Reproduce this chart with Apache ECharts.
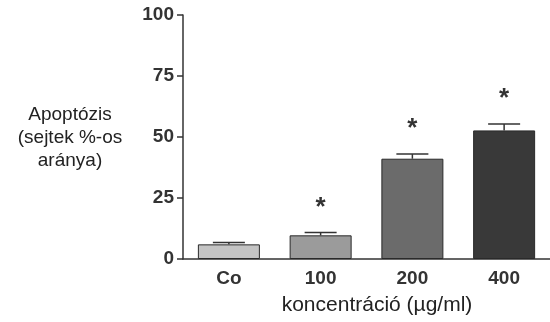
<!DOCTYPE html>
<html><head><meta charset="utf-8">
<script src="https://cdn.jsdelivr.net/npm/echarts@6/dist/echarts.min.js"></script>
<style>html,body{margin:0;padding:0;background:#fff}#c{width:550px;height:322px}</style>
</head><body><div id="c"></div>
<script>
var categories = ['Co', '100', '200', '400'];
var means = [6.0, 9.7, 41.1, 52.7];
var errors = [0.8, 1.2, 1.9, 2.6];
var significant = [false, true, true, true];
var barColors = ['#c4c4c4', '#9b9b9b', '#6b6b6b', '#393939'];
var yTicks = [0, 25, 50, 75, 100];

var chart = echarts.init(document.getElementById('c'));
var font = '"Liberation Sans", Arial, sans-serif';
chart.setOption({
  animation: false,
  textStyle: {fontFamily: font},
  grid: {left: 183, right: -2, top: 15, bottom: 63, containLabel: false},
  xAxis: {
    type: 'category', data: categories,
    axisLine: {lineStyle: {color: '#333', width: 1.5}},
    axisTick: {alignWithLabel: true, length: 6, lineStyle: {color: '#333', width: 1.5}},
    axisLabel: {color: '#333', fontSize: 19, fontWeight: 'bold', margin: 10, fontFamily: font},
    name: 'koncentráció (µg/ml)', nameLocation: 'middle', nameGap: 36,
    nameTextStyle: {color: '#222', fontSize: 21, fontFamily: font, padding: [0, 0, 0, 21]}
  },
  yAxis: {
    type: 'value', min: 0, max: 100, interval: 25,
    axisLine: {show: true, lineStyle: {color: '#333', width: 1.5}},
    axisTick: {show: true, length: 6, lineStyle: {color: '#333', width: 1.5}},
    axisLabel: {color: '#333', fontSize: 19, fontWeight: 'bold', margin: 9, fontFamily: font,
      formatter: function (v) { return yTicks.indexOf(v) >= 0 ? String(v) : ''; }},
    splitLine: {show: false}
  },
  graphic: [{
    type: 'text', x: 70, y: 103,
    style: {text: 'Apoptózis\n(sejtek %-os\naránya)', textAlign: 'center',
      fill: '#222', font: '19px ' + font, lineHeight: 23}
  }],
  series: [{
    type: 'bar', barWidth: 62,
    data: means.map(function (v, i) {
      return {value: v, itemStyle: {color: barColors[i], borderColor: '#2a2a2a', borderWidth: 1}};
    })
  }, {
    type: 'custom',
    data: means.map(function (v, i) { return [i, v, errors[i], significant[i] ? 1 : 0]; }),
    renderItem: function (params, api) {
      var x = api.value(0), m = api.value(1), e = api.value(2), s = api.value(3);
      var p0 = api.coord([x, m]);
      var p1 = api.coord([x, m + e]);
      var hw = 16;
      var children = [
        {type: 'line', shape: {x1: p0[0], y1: p0[1], x2: p1[0], y2: p1[1]}, style: {stroke: '#333', lineWidth: 1.5}},
        {type: 'line', shape: {x1: p1[0] - hw, y1: p1[1], x2: p1[0] + hw, y2: p1[1]}, style: {stroke: '#333', lineWidth: 1.5}}
      ];
      if (s) {
        children.push({type: 'text', x: p1[0], y: p1[1] - 25,
          style: {text: '*', textAlign: 'center', textVerticalAlign: 'middle', fill: '#333',
            font: 'bold 26px ' + font}});
      }
      return {type: 'group', children: children};
    },
    z: 5
  }]
});
</script></body></html>
